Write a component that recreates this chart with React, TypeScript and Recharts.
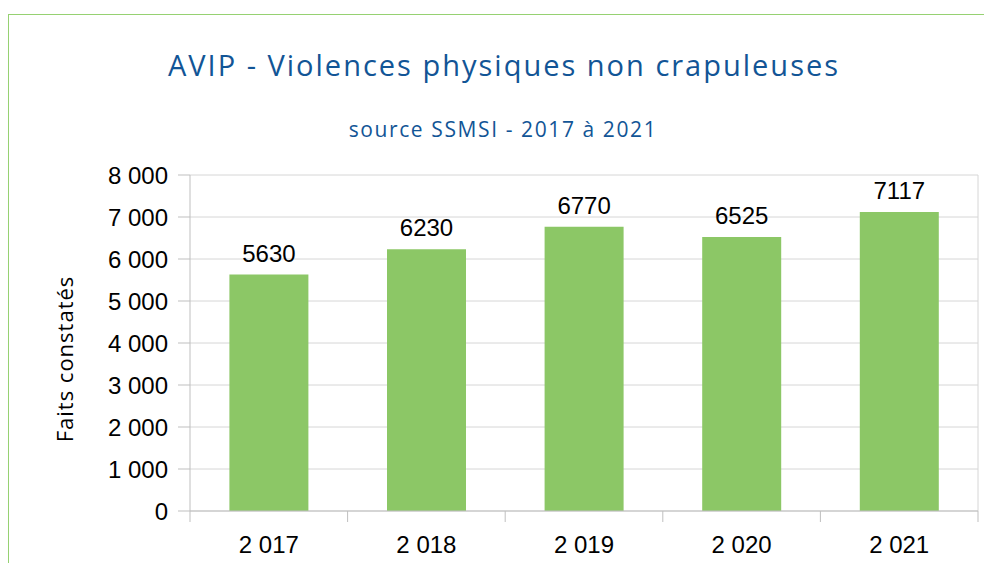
import React from 'react';
import { BarChart, Bar, CartesianGrid, LabelList, XAxis, YAxis } from 'recharts';

const years = ['2 017', '2 018', '2 019', '2 020', '2 021'];
const faits = [5630, 6230, 6770, 6525, 7117];
const yTicks = [0, 1000, 2000, 3000, 4000, 5000, 6000, 7000, 8000];

const data = years.map((year, i) => ({ year, faits: faits[i] }));

const TICK_SIZE = 11;
const TICK_MARGIN = 14;
const AXIS_GREY = '#BFBFBF';
const GRID_GREY = '#D6D6D6';
const TEXT_FONT = '"Liberation Sans", Arial, sans-serif';
const TITLE_FONT = '"Open Sans", "Noto Sans", sans-serif';

const fmtThousands = (v: number) => String(v).replace(/\B(?=(\d{3})+(?!\d))/g, ' ');

// category ticks sit on the band edges, labels stay centred
function YearTick(props: any) {
  const { x, y, payload, index, visibleTicksCount } = props;
  const half = payload?.offset ?? 0;
  const top = y - TICK_SIZE - TICK_MARGIN;
  const isLast = index === visibleTicksCount - 1;
  return (
    <g>
      <line x1={x - half} x2={x - half} y1={top} y2={top + TICK_SIZE} stroke={AXIS_GREY} />
      {isLast && (
        <line x1={x + half} x2={x + half} y1={top} y2={top + TICK_SIZE} stroke={AXIS_GREY} />
      )}
      <text x={x} y={y} dy="0.71em" textAnchor="middle" fontSize={24} fontFamily={TEXT_FONT} fill="#000">
        {payload.value}
      </text>
    </g>
  );
}

export default function App() {
  return (
    <div style={{ position: 'absolute', left: 0, top: 0, width: 984, height: 563, overflow: 'hidden', background: '#fff' }}>
      <div
        style={{
          position: 'absolute',
          left: 8,
          top: 14,
          width: 1000,
          height: 600,
          border: '1px solid #96D172',
        }}
      />
      <BarChart
        width={984}
        height={563}
        data={data}
        margin={{ top: 175, right: 6, bottom: 0, left: 0 }}
        barCategoryGap="25%"
        style={{ position: 'absolute', left: 0, top: 0 }}
      >
        <CartesianGrid
          stroke={GRID_GREY}
          verticalCoordinatesGenerator={({ offset }: any) => [offset.left + offset.width]}
        />
        <XAxis
          dataKey="year"
          height={52}
          axisLine={{ stroke: AXIS_GREY }}
          tickLine={false}
          tickSize={TICK_SIZE}
          tickMargin={TICK_MARGIN}
          interval={0}
          tick={<YearTick />}
        />
        <YAxis
          width={190}
          domain={[0, 8000]}
          ticks={yTicks}
          interval={0}
          tickFormatter={fmtThousands}
          axisLine={{ stroke: AXIS_GREY }}
          tickLine={{ stroke: AXIS_GREY }}
          tickSize={12}
          tickMargin={10}
          tick={{ fontSize: 24, fontFamily: TEXT_FONT, fill: '#000' }}
        />
        <Bar dataKey="faits" fill="#8CC766" isAnimationActive={false}>
          <LabelList
            dataKey="faits"
            position="top"
            offset={13}
            fontSize={24}
            fontFamily={TEXT_FONT}
            fill="#000"
          />
        </Bar>
      </BarChart>
      <svg width={984} height={563} style={{ position: 'absolute', left: 0, top: 0, pointerEvents: 'none' }}>
        <text x={504} y={76} textAnchor="middle" fontSize={29} letterSpacing={2} fontFamily={TITLE_FONT} fill="#125596">
          AVIP - Violences physiques non crapuleuses
        </text>
        <text x={503} y={137} textAnchor="middle" fontSize={21} letterSpacing={1.6} fontFamily={TITLE_FONT} fill="#125596">
          source SSMSI - 2017 à 2021
        </text>
        <text
          x={0}
          y={0}
          transform="translate(73 359) rotate(-90)"
          textAnchor="middle"
          fontSize={22}
          letterSpacing={1}
          fontFamily={TITLE_FONT}
          fill="#000"
        >
          Faits constatés
        </text>
      </svg>
    </div>
  );
}
